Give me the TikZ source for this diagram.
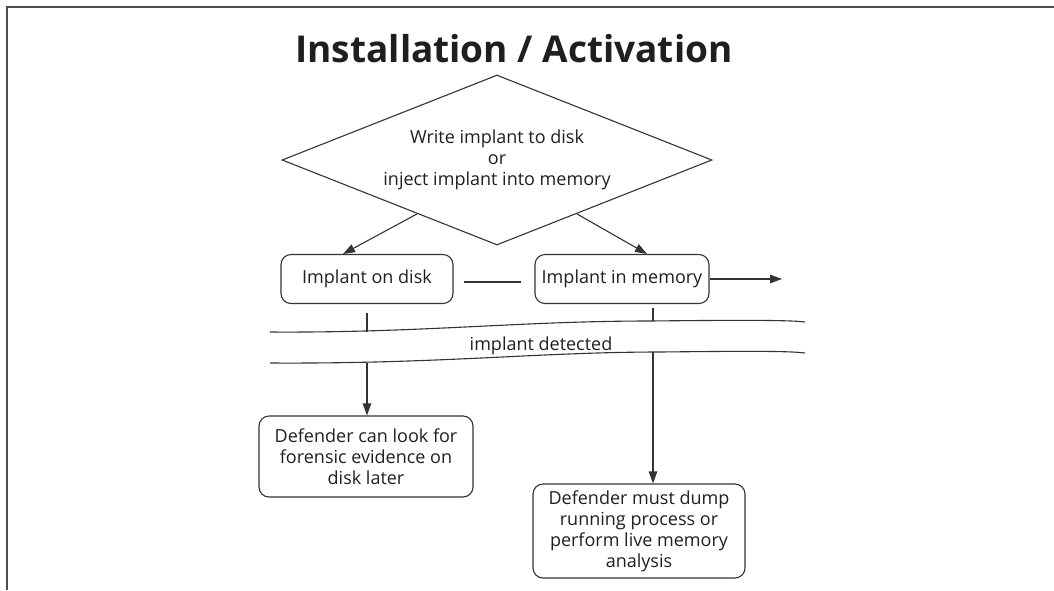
\documentclass[tikz,border=0pt]{standalone}
\usepackage{fontspec}
\setmainfont{Open Sans}
\usetikzlibrary{shapes.geometric,arrows.meta}
\begin{document}
\begin{tikzpicture}[x=1pt,y=-1pt,
  every node/.style={font=\fontsize{18}{21}\selectfont, text=black!88},
  stepbox/.style={draw=black!80, line width=1.1pt, rounded corners=10pt, align=center, inner sep=0pt},
  choicebox/.style={draw=black!80, line width=1.1pt, diamond, aspect=2.53, align=center, inner sep=0pt},
  link/.style={draw=black!80, line width=1.1pt},
  arrowlink/.style={link, -{Triangle[length=12pt,width=8.5pt]}},
  frameline/.style={draw=black!70, line width=2pt}]
\useasboundingbox (0,0) rectangle (1054,590);

% page frame (top and left edges)
\draw[frameline] (7,590) -- (7,7) -- (1054,7);

% title
\node[font=\fontsize{37}{44}\selectfont\bfseries, anchor=base] (title) at (514,62) {Installation / Activation};

% decision
\node[choicebox, minimum width=430pt, minimum height=170pt] (choice) at (497,160)
  {Write implant to disk\\or\\inject implant into memory};

% outcomes
\node[stepbox, minimum width=172pt, minimum height=49pt] (disk) at (367,279) {Implant on disk};
\node[stepbox, minimum width=174pt, minimum height=49pt] (mem) at (622,279) {Implant in memory};
\node[stepbox, minimum width=214pt, minimum height=81pt] (diskev) at (366,456.5)
  {Defender can look for\\forensic evidence on\\disk later};
\node[stepbox, minimum width=212pt, minimum height=94pt] (memev) at (639,531)
  {Defender must dump\\running process or\\perform live memory\\analysis};

% detection band
\draw[link] (270,332) .. controls (420,333) and (520,321) .. (650,321)
  .. controls (740,320) and (790,320) .. (805,322);
\draw[link] (270,363) .. controls (440,364) and (540,352) .. (660,352)
  .. controls (750,351) and (790,351) .. (805,353);
\node (det) at (541,346) {implant detected};

% connector end points
\coordinate (disktick) at (367,313);
\coordinate (bandtopL) at (367,332);
\coordinate (bandbotL) at (367,363);
\coordinate (memtick) at (653,308);
\coordinate (bandtopR) at (653,321);
\coordinate (bandbotR) at (653,352);
\coordinate (onward) at (782,279);

% connectors
\draw[arrowlink] (choice.214) -- ([xshift=-24pt]disk.north);
\draw[arrowlink] (choice.326) -- ([xshift=25pt]mem.north);
\draw[link] ([shift={(10pt,-3pt)}]disk.east) -- ([shift={(-13pt,-3pt)}]mem.west);
\draw[arrowlink] (mem.east) -- (onward);
\draw[link] (disktick) -- (bandtopL);
\draw[arrowlink] (bandbotL) -- (diskev.north -| bandbotL);
\draw[link] (memtick) -- (bandtopR);
\draw[arrowlink] (bandbotR) -- (memev.north -| bandbotR);
\end{tikzpicture}
\end{document}
